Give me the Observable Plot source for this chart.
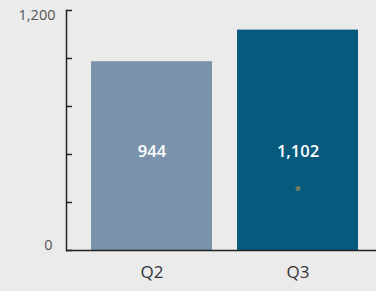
<!DOCTYPE html>
<html><head><meta charset="utf-8">
<script src="https://cdn.jsdelivr.net/npm/d3@7"></script>
<script src="https://cdn.jsdelivr.net/npm/@observablehq/plot@0.6"></script>
<style>
html,body{margin:0;padding:0;background:#ebebeb;}
#chart svg{display:block;}
</style></head>
<body><div id="chart"></div>
<script>
const quarters = ["Q2", "Q3"];
const values = [944, 1102];
const barColors = ["#7a93ab", "#065a7e"];
const yTicks = [0, 240, 480, 720, 960, 1200];
const labelLevel = 495;
const markerPoint = [{q: "Q3", v: 310}];

const data = quarters.map((q, i) => ({q, v: values[i], c: barColors[i], label: d3.format(",")(values[i])}));

const chart = Plot.plot({
  width: 376,
  height: 291,
  marginTop: 10,
  marginBottom: 41,
  marginLeft: 66,
  marginRight: 0,
  style: {background: "#ebebeb", fontFamily: "'Open Sans', sans-serif"},
  x: {domain: quarters, paddingInner: 0.17, paddingOuter: 0.14, align: 0.585, axis: null, label: null},
  y: {domain: [0, 1200], axis: null, label: null},
  marks: [
    Plot.barY(data, {x: "q", y: "v", fill: "c"}),
    Plot.text(data, {x: "q", y: () => labelLevel, text: "label", fill: "white", fontSize: 16.5, fontWeight: 600}),
    Plot.dot(markerPoint, {x: "q", y: "v", r: 2.5, fill: "#6e7c5e", stroke: "none"}),
    Plot.axisY({ticks: yTicks, tickSize: -6, tickFormat: () => "", label: null, stroke: "#222", strokeWidth: 1.5, strokeOpacity: 1}),
    Plot.axisY({ticks: [1200], tickSize: 0, tickPadding: 11, dy: 5, label: null, tickFormat: d3.format(","), fontSize: 14.5, color: "#555"}),
    Plot.axisY({ticks: [0], tickSize: 0, tickPadding: 14, dy: -5, label: null, tickFormat: d3.format(","), fontSize: 14.5, color: "#555"}),
    Plot.axisX({tickSize: 0, tickPadding: 15, label: null, fontSize: 17, color: "#333"}),
    Plot.frame({anchor: "left", stroke: "#222", strokeWidth: 1.5}),
    Plot.ruleY([0], {stroke: "#222", strokeWidth: 1.5})
  ]
});
document.getElementById("chart").append(chart);
</script></body></html>
